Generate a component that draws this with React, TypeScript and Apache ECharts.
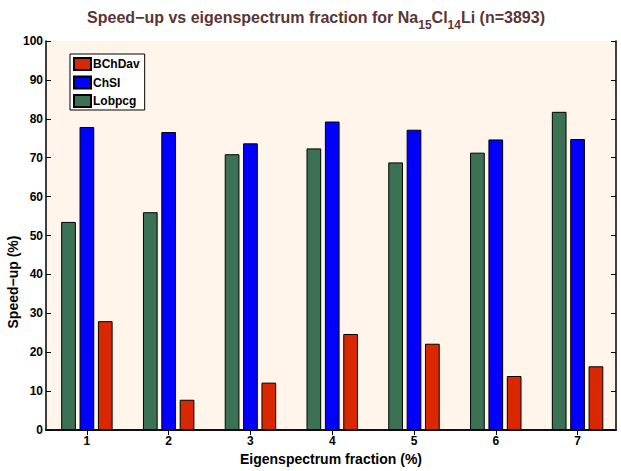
import React, { useEffect, useRef } from "react";
import * as echarts from "echarts";

const categories = [1, 2, 3, 4, 5, 6, 7];
const lobpcg = [53.5, 56.0, 70.9, 72.4, 68.8, 71.3, 81.8];
const chsi = [77.9, 76.6, 73.7, 79.3, 77.2, 74.7, 74.8];
const bchdav = [28.0, 7.8, 12.2, 24.7, 22.2, 13.9, 16.4];
const yTicks = [0, 10, 20, 30, 40, 50, 60, 70, 80, 90, 100];

const FONT = "Liberation Sans, Arial, Helvetica, sans-serif";

export default function App() {
  const ref = useRef<HTMLDivElement>(null);
  useEffect(() => {
    if (!ref.current) return;
    const chart = echarts.init(ref.current, null, { renderer: "svg" });
    const pairs = (arr: number[]) => categories.map((c, i) => [c, arr[i]]);
    const barStyle = (color: string) => ({
      color,
      borderColor: "#000",
      borderWidth: 1,
    });
    const axisCommon = {
      axisLine: { show: true, lineStyle: { color: "#000", width: 1.5 } },
      splitLine: { show: false },
    };
    chart.setOption({
      animation: false,
      backgroundColor: "#fff",
      textStyle: { fontFamily: FONT },
      title: {
        text:
          "{a|Speed\u2212up vs eigenspectrum fraction for Na}{s|15}{a|Cl}{s|14}{a|Li (n=3893)}",
        left: 311,
        textAlign: "center",
        top: 4,
        textStyle: {
          rich: {
            a: {
              fontFamily: FONT,
              fontSize: 16,
              fontWeight: "bold",
              color: "#5a3535",
              verticalAlign: "top",
              lineHeight: 19,
            },
            s: {
              fontFamily: FONT,
              fontSize: 12,
              fontWeight: "bold",
              color: "#5a3535",
              verticalAlign: "top",
              lineHeight: 14,
              padding: [10, 0, 0, 0],
            },
          },
        },
      },
      legend: {
        orient: "vertical",
        left: 70,
        top: 54,
        data: ["BChDav", "ChSI", "Lobpcg"],
        itemWidth: 17,
        itemHeight: 12,
        itemGap: 4.5,
        padding: [3, 5, 2, 3],
        backgroundColor: "#fff",
        borderColor: "#000",
        borderWidth: 1,
        icon: "rect",
        textStyle: {
          fontFamily: FONT,
          fontSize: 12,
          fontWeight: "bold",
          color: "#000",
          padding: [0, 0, 0, -3],
        },
      },
      grid: {
        left: 46,
        top: 41,
        width: 570,
        height: 400,
        show: true,
        backgroundColor: "#fff5ea",
        borderWidth: 0,
      },
      xAxis: [
        {
          type: "value",
          min: 0.5,
          max: 7.47,
          position: "bottom",
          ...axisCommon,
          axisTick: {
            show: true,
            inside: true,
            length: 5,
            customValues: categories,
            lineStyle: { color: "#000" },
          },
          axisLabel: {
            customValues: categories,
            fontFamily: FONT,
            fontSize: 12,
            fontWeight: "bold",
            color: "#000",
            margin: 5,
          },
          name: "Eigenspectrum fraction (%)",
          nameLocation: "middle",
          nameGap: 14,
          nameTextStyle: {
            fontFamily: FONT,
            fontSize: 14,
            fontWeight: "bold",
            color: "#000",
            verticalAlign: "top",
          },
        },
        {
          type: "value",
          min: 0.5,
          max: 7.47,
          position: "top",
          ...axisCommon,
          axisTick: {
            show: true,
            inside: true,
            length: 5,
            customValues: categories,
            lineStyle: { color: "#000" },
          },
          axisLabel: { show: false },
        },
      ],
      yAxis: [
        {
          type: "value",
          min: 0,
          max: 100,
          interval: 10,
          position: "left",
          ...axisCommon,
          axisTick: { show: true, inside: true, length: 5, lineStyle: { color: "#000" } },
          axisLabel: {
            fontFamily: FONT,
            fontSize: 12,
            fontWeight: "bold",
            color: "#000",
            margin: 3,
            formatter: (v: number) => (yTicks.includes(v) ? String(v) : ""),
          },
        },
        {
          type: "value",
          min: 0,
          max: 100,
          interval: 10,
          position: "right",
          ...axisCommon,
          axisTick: { show: true, inside: true, length: 5, lineStyle: { color: "#000" } },
          axisLabel: { show: false },
        },
      ],
      graphic: [
        {
          type: "text",
          x: 13,
          y: 282,
          rotation: Math.PI / 2,
          style: {
            text: "Speed\u2212up (%)",
            fontFamily: FONT,
            fontSize: 14,
            fontWeight: "bold",
            fill: "#000",
            align: "center",
            verticalAlign: "middle",
          },
        },
      ],
      series: [
        {
          name: "Lobpcg",
          type: "bar",
          data: pairs(lobpcg),
          barWidth: 14.7,
          barGap: "25%",
          itemStyle: barStyle("#3b7255"),
        },
        {
          name: "ChSI",
          type: "bar",
          data: pairs(chsi),
          barWidth: 14.7,
          barGap: "25%",
          itemStyle: barStyle("#0000ff"),
        },
        {
          name: "BChDav",
          type: "bar",
          data: pairs(bchdav),
          barWidth: 14.7,
          barGap: "25%",
          itemStyle: barStyle("#d92800"),
        },
      ],
    });
    return () => chart.dispose();
  }, []);
  return <div ref={ref} style={{ width: 621, height: 471, position: "absolute", left: 0, top: 0 }} />;
}
